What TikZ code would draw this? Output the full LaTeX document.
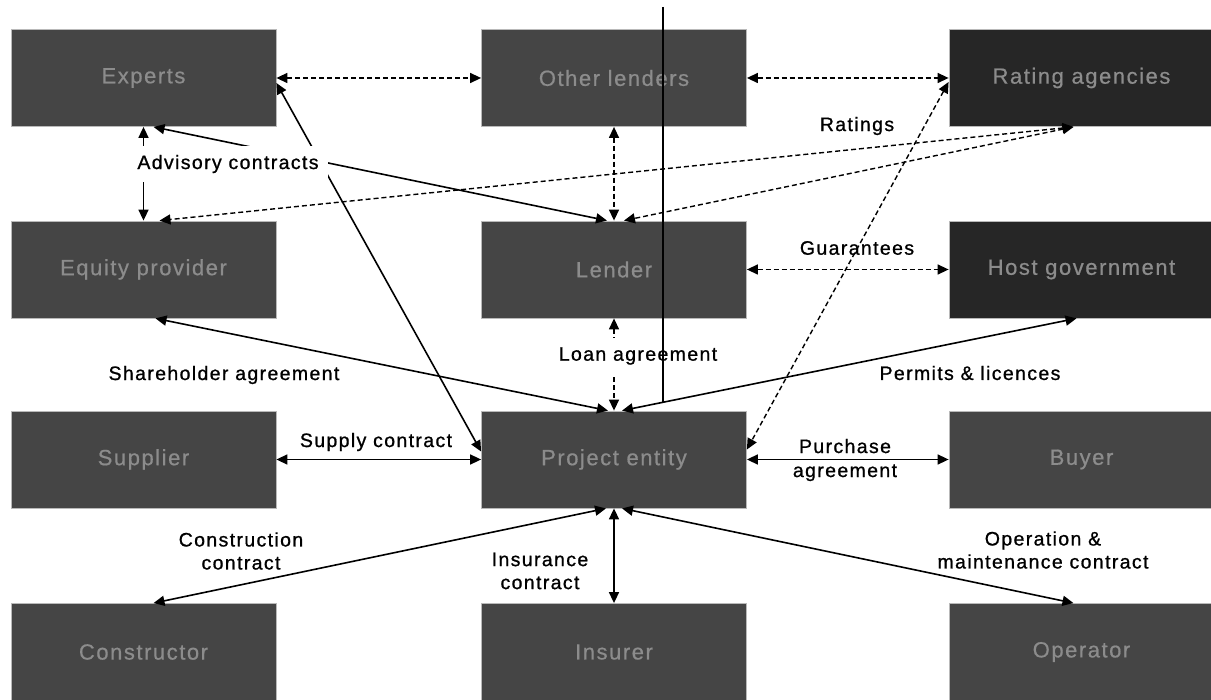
\documentclass[tikz,border=0pt]{standalone}
\usepackage{fontspec}
\setmainfont{Liberation Sans}
\newfontfamily\lblfont{Liberation Sans}[LetterSpace=7, FakeBold=0.9]
\newfontfamily\boxfont{Liberation Sans}[LetterSpace=7, FakeBold=0.6]
\usetikzlibrary{arrows.meta}
\definecolor{boxgray}{gray}{0.27}
\definecolor{boxdark}{gray}{0.15}
\definecolor{boxtext}{gray}{0.55}
\begin{document}
\begin{tikzpicture}[x=1pt,y=-1pt,
  >={Triangle[length=11pt,width=10pt]},
  entity/.style={rectangle, draw=gray!55, line width=0.8pt, fill=boxgray,
    minimum width=265pt, minimum height=97pt, inner sep=0pt,
    font=\boxfont\fontsize{22}{26}\selectfont, text=boxtext},
  darkentity/.style={entity, fill=boxdark},
  link/.style={line width=1.6pt, <->},
  dlink/.style={link, line width=1.4pt, dash pattern=on 5pt off 3pt},
  lbl/.style={font=\lblfont\fontsize{19.5}{23}\selectfont, align=center, inner sep=0pt},
  cover/.style={lbl, fill=white, inner xsep=9pt, inner ysep=9pt},
  stray/.style={line width=1.2pt}
]
\useasboundingbox (0,0) rectangle (1211,700);

% parties
\node[entity]     (experts)  at (143.5,78)   {Experts};
\node[entity]     (other)    at (614,78)     {Other lenders};
\node[darkentity] (rating)   at (1081.5,78)  {Rating agencies};
\node[entity]     (equity)   at (143.5,269.5) {Equity provider};
\node[entity]     (lender)   at (614,269.5)  {Lender};
\node[darkentity] (host)     at (1081.5,269.5) {Host government};
\node[entity]     (supplier) at (143.5,459.5) {Supplier};
\node[entity]     (project)  at (614,459.5)  {Project entity};
\node[entity]     (buyer)    at (1081.5,459.5) {Buyer};
\node[entity]     (constructor) at (143.5,652) {Constructor};
\node[entity]     (insurer)  at (614,652)    {Insurer};
\node[entity]     (operator) at (1081.5,652) {Operator};

% dashed relations
\draw[dlink] (experts.east) -- (other.west);
\draw[dlink] (other.east) -- (rating.west);
\draw[dlink] (other.south) -- (lender.north);
\draw[dlink] ([xshift=-8pt]rating.south) -- ([xshift=16pt]equity.north);
\draw[dlink] ([xshift=-8pt]rating.south) -- ([xshift=10pt]lender.north);
\draw[dlink] ([yshift=-4pt]rating.west) -- ([yshift=10pt]project.east);
\draw[dlink] (lender.east) -- (host.west);
\draw[dlink] (lender.south) -- (project.north);

% contracts
\draw[link] (experts.south) -- (equity.north);
\draw[link] ([xshift=10pt]experts.south) -- ([xshift=-7pt]lender.north);
\draw[link] ([yshift=-5pt]experts.east) -- ([yshift=8pt]project.west);
\draw[link] ([xshift=12pt]equity.south) -- ([xshift=-6pt]project.north);
\draw[link] ([xshift=-5pt]host.south) -- ([xshift=8pt]project.north);
\draw[link] (supplier.east) -- (project.west);
\draw[link] (project.east) -- (buyer.west);
\draw[link] ([xshift=-8pt]project.south) -- ([xshift=10pt]constructor.north);
\draw[link] (project.south) -- (insurer.north);
\draw[link] ([xshift=8pt]project.south) -- ([xshift=-8pt]operator.north);

% labels
\node[cover] (advisory) at (228,164) {Advisory contracts};
\node[lbl] (ratings) at (857,126) {Ratings};
\node[lbl] (guar) at (857,248) {Guarantees};
\node[lbl] (share) at (224,375) {Shareholder agreement};
\node[cover] (loan) at (638,356) {Loan agreement};
\node[lbl] (permits) at (970,373) {Permits \& licences};
\node[lbl] (supply) at (376,442) {Supply contract};
\node[lbl, font=\lblfont\fontsize{19.5}{24}\selectfont] (purchase) at (845,460) {Purchase\\agreement};
\node[lbl] (construction) at (241,551) {Construction\\contract};
\node[lbl] (insurance) at (540,571) {Insurance\\contract};
\node[lbl] (operation) at (1043,550) {Operation \&\\maintenance contract};

% vertical rule crossing the upper rows
\coordinate (strayTop) at (663,7);
\coordinate (strayBot) at (663,402);
\draw[stray] (strayTop) -- (strayBot);
\end{tikzpicture}
\end{document}
